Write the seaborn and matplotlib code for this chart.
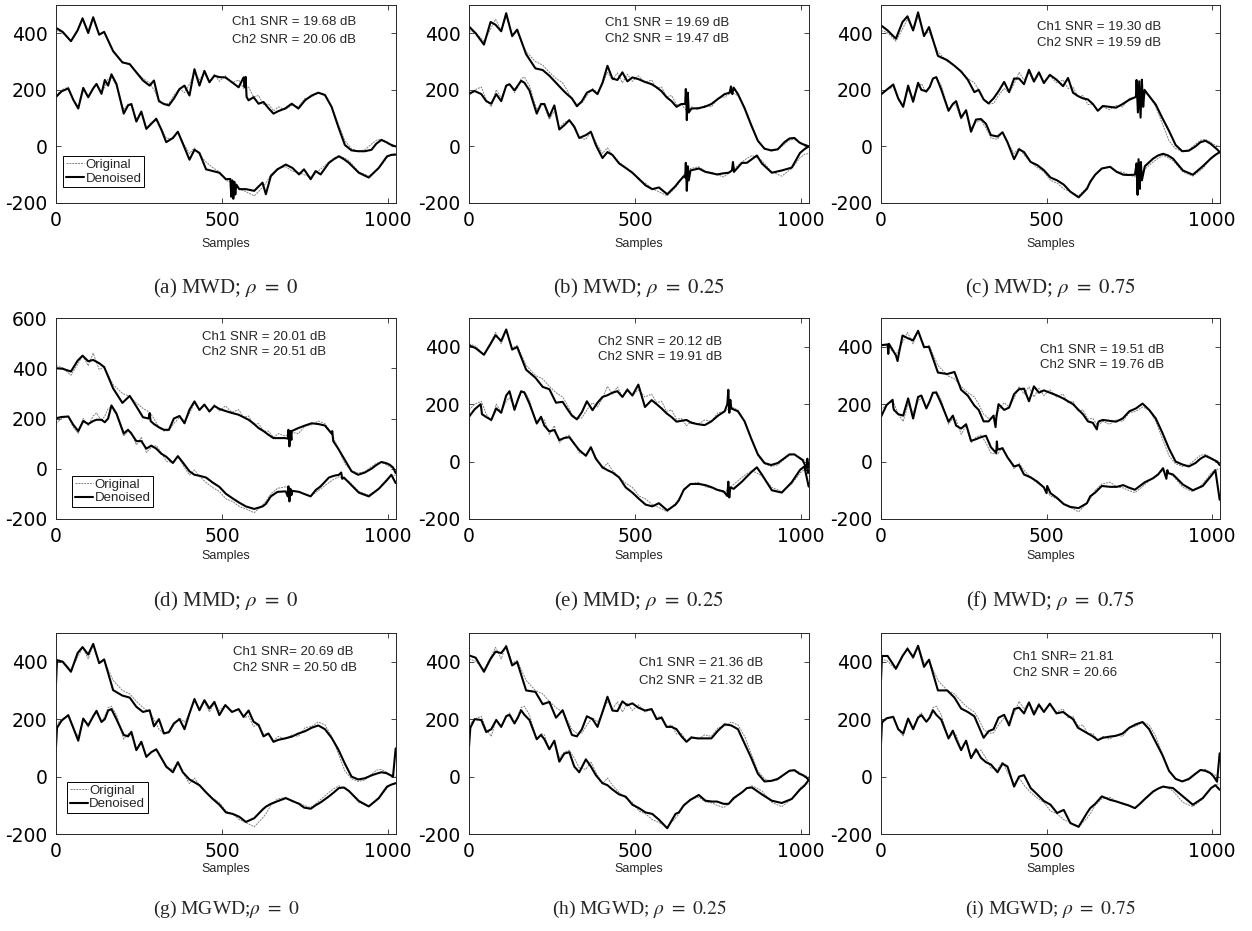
import numpy as np
import pandas as pd
import matplotlib
matplotlib.use('Agg')
import matplotlib.pyplot as plt
import seaborn as sns

ch1_samples = [0, 20, 45, 65, 80, 97, 112, 130, 145, 172,
               200, 222, 242, 262, 282, 295, 310, 325, 340, 355,
               372, 387, 402, 417, 432, 447, 462, 477, 492, 510,
               530, 550, 565, 580, 595, 610, 625, 640, 655, 670,
               690, 710, 730, 750, 770, 790, 810, 830, 850, 870,
               890, 910, 930, 950, 965, 980, 995, 1005, 1015, 1023]
ch2_samples = [0, 17, 37, 52, 67, 82, 97, 112, 122, 137,
               147, 157, 167, 182, 204, 217, 227, 242, 257, 272,
               287, 302, 317, 332, 352, 367, 382, 402, 417, 432,
               452, 472, 492, 512, 532, 552, 572, 597, 622, 632,
               647, 667, 692, 712, 732, 747, 767, 782, 797, 822,
               837, 852, 867, 882, 912, 942, 972, 997, 1010, 1023]

# original signals (same in every panel)
orig_ch1 = [410, 402, 372, 415, 450, 410, 460, 395, 405, 335,
            300, 288, 262, 240, 225, 200, 165, 150, 152, 180,
            205, 190, 220, 262, 235, 260, 225, 255, 230, 250,
            225, 235, 205, 210, 175, 180, 148, 150, 125, 140,
            130, 145, 140, 170, 175, 190, 180, 140, 80, 20,
            -8, -17, -12, 8, 22, 25, 15, 8, 2, 0]
orig_ch2 = [180, 200, 210, 165, 140, 200, 172, 210, 222, 190,
            210, 240, 245, 215, 130, 150, 145, 95, 125, 65,
            85, 92, 65, 30, 25, 52, 15, -25, -5, -30,
            -55, -75, -90, -120, -130, -150, -160, -175, -145, -130,
            -100, -78, -72, -88, -92, -100, -108, -95, -80, -55,
            -42, -32, -40, -50, -90, -105, -78, -40, -28, -25]

# denoised signals, one pair per panel
den1_a = [419, 405, 372, 410, 453, 401, 456, 395, 405, 337,
          297, 291, 262, 233, 215, 233, 160, 150, 145, 169,
          203, 215, 180, 273, 215, 267, 227, 250, 245, 244,
          227, 209, 244, 163, 174, 151, 157, 135, 116, 125,
          134, 151, 134, 163, 180, 190, 182, 140, 70, 5,
          -14, -17, -17, -12, 10, 23, 15, 8, 3, 0]
den2_a = [175, 195, 205, 165, 134, 207, 174, 205, 221, 186,
          235, 215, 255, 221, 116, 145, 150, 88, 123, 62,
          80, 98, 60, 15, 30, 52, 10, -47, -12, -23,
          -81, -87, -93, -116, -134, -151, -151, -157, -128, -169,
          -105, -81, -64, -76, -99, -81, -116, -87, -99, -58,
          -45, -35, -45, -58, -93, -110, -76, -35, -30, -29]
den1_b = [424, 400, 360, 440, 430, 407, 471, 390, 413, 326,
          276, 270, 250, 225, 200, 185, 170, 142, 160, 190,
          200, 185, 225, 285, 240, 235, 262, 230, 244, 238,
          228, 220, 209, 195, 174, 160, 140, 150, 145, 134,
          135, 140, 150, 168, 185, 200, 185, 135, 75, 20,
          -8, -14, -10, 15, 28, 30, 14, 8, 4, 0]
den2_b = [186, 196, 185, 160, 151, 185, 160, 215, 220, 198,
          215, 232, 225, 198, 116, 150, 150, 105, 145, 60,
          75, 93, 70, 30, 40, 52, 5, -41, -20, -30,
          -60, -76, -93, -115, -138, -151, -145, -169, -140, -125,
          -105, -85, -78, -90, -95, -99, -95, -93, -75, -58,
          -58, -45, -32, -60, -93, -85, -75, -23, -10, 0]
den1_c = [428, 410, 381, 440, 460, 410, 474, 390, 422, 320,
          305, 285, 265, 236, 192, 200, 166, 152, 170, 195,
          228, 192, 240, 240, 220, 271, 230, 262, 224, 253,
          236, 213, 242, 190, 178, 170, 166, 150, 126, 143,
          140, 137, 150, 165, 175, 180, 178, 148, 100, 55,
          5, -17, -15, 0, 15, 20, 10, 0, -10, -20]
den2_c = [184, 200, 219, 170, 140, 215, 158, 225, 200, 195,
          210, 240, 245, 201, 126, 150, 160, 102, 128, 52,
          95, 97, 80, 40, 35, 50, 15, -45, -10, -20,
          -55, -66, -84, -110, -120, -135, -160, -180, -150, -125,
          -100, -78, -72, -90, -100, -101, -100, -90, -70, -43,
          -32, -26, -32, -43, -85, -100, -70, -42, -30, -20]
den1_d = [400, 398, 387, 430, 450, 428, 433, 420, 405, 320,
          262, 290, 248, 205, 221, 178, 165, 155, 155, 200,
          210, 181, 235, 268, 234, 255, 228, 250, 238, 230,
          222, 215, 205, 195, 180, 162, 150, 135, 122, 122,
          122, 150, 162, 172, 181, 178, 172, 140, 80, 35,
          -10, -24, -15, 0, 15, 27, 22, 16, 5, -17]
den2_d = [201, 206, 208, 175, 150, 190, 178, 190, 195, 195,
          185, 200, 252, 220, 140, 155, 140, 110, 110, 80,
          92, 80, 60, 48, 23, 50, 25, -10, -24, -28,
          -35, -55, -72, -100, -118, -135, -150, -160, -150, -140,
          -110, -92, -90, -88, -92, -100, -110, -85, -70, -35,
          -28, -24, -35, -55, -95, -110, -80, -45, -24, -57]
den1_e = [405, 395, 372, 410, 440, 420, 460, 390, 399, 320,
          292, 260, 252, 205, 208, 185, 160, 147, 172, 210,
          179, 205, 225, 231, 240, 245, 225, 250, 230, 268,
          190, 214, 200, 185, 168, 155, 139, 142, 145, 135,
          130, 127, 140, 160, 175, 185, 175, 140, 80, 25,
          -5, -12, -5, 12, 25, 25, 13, 5, -20, -6]
den2_e = [156, 182, 185, 155, 145, 185, 170, 230, 245, 180,
          215, 245, 240, 202, 133, 156, 125, 105, 110, 75,
          82, 85, 62, 40, 20, 50, 10, -20, -30, -38,
          -55, -90, -108, -130, -150, -156, -145, -170, -150, -135,
          -98, -78, -78, -82, -90, -98, -104, -100, -95, -70,
          -52, -35, -20, -45, -100, -108, -72, -29, -17, -87]
den1_f = [405, 408, 370, 439, 430, 422, 455, 399, 399, 310,
          305, 312, 250, 230, 195, 180, 140, 140, 160, 200,
          180, 188, 235, 252, 254, 210, 262, 240, 248, 240,
          231, 220, 210, 200, 182, 165, 140, 135, 133, 145,
          142, 139, 150, 175, 185, 202, 180, 150, 100, 45,
          0, -10, -17, -5, 10, 20, 12, 6, 0, -12]
den2_f = [156, 197, 190, 165, 160, 220, 150, 225, 230, 185,
          210, 240, 240, 202, 139, 160, 125, 115, 130, 72,
          78, 85, 90, 50, 42, 46, 15, -17, -12, -45,
          -55, -70, -90, -110, -127, -148, -158, -162, -145, -121,
          -108, -85, -88, -88, -82, -90, -98, -85, -72, -58,
          -45, -23, -40, -45, -80, -100, -85, -50, -30, -133]
den1_g = [324, 400, 365, 430, 451, 425, 462, 395, 408, 301,
          282, 275, 243, 225, 231, 175, 200, 150, 155, 185,
          200, 165, 220, 270, 231, 266, 237, 260, 214, 249,
          225, 235, 208, 230, 191, 180, 140, 150, 121, 128,
          133, 139, 150, 158, 170, 178, 165, 135, 95, 45,
          0, -10, -6, 4, 10, 15, 12, 6, 0, 98]
den2_g = [104, 195, 214, 170, 125, 202, 178, 210, 229, 190,
          200, 230, 235, 200, 145, 140, 156, 92, 121, 69,
          85, 95, 65, 35, 15, 50, 15, -10, -20, -30,
          -55, -78, -98, -125, -130, -140, -158, -145, -115, -105,
          -95, -86, -75, -85, -95, -108, -112, -100, -90, -69,
          -55, -40, -38, -50, -85, -104, -75, -35, -28, -23]
den1_h = [422, 414, 365, 410, 435, 430, 453, 387, 399, 300,
          295, 252, 260, 205, 231, 190, 145, 140, 165, 210,
          200, 173, 225, 278, 230, 228, 262, 248, 255, 240,
          230, 235, 200, 205, 173, 173, 165, 140, 121, 136,
          133, 133, 133, 160, 182, 178, 165, 115, 65, 10,
          -17, -15, -8, 8, 20, 22, 10, 5, -2, -12]
den2_h = [104, 200, 197, 155, 165, 197, 173, 210, 215, 185,
          205, 231, 215, 197, 130, 145, 130, 95, 125, 52,
          80, 85, 35, 15, 60, 35, 5, -23, -30, -45,
          -62, -70, -98, -110, -125, -130, -150, -180, -130, -125,
          -100, -81, -64, -84, -87, -87, -95, -95, -75, -55,
          -40, -38, -50, -62, -84, -92, -78, -45, -32, -12]
den1_i = [335, 420, 376, 420, 445, 416, 455, 382, 407, 300,
          300, 275, 237, 225, 210, 175, 135, 158, 165, 205,
          215, 178, 235, 240, 220, 258, 216, 250, 225, 254,
          220, 225, 212, 200, 170, 160, 150, 140, 127, 135,
          139, 142, 150, 170, 182, 190, 165, 120, 75, 20,
          -8, -17, -8, 10, 23, 20, 12, 0, -18, 81]
den2_i = [116, 203, 208, 165, 150, 202, 165, 205, 214, 191,
          205, 231, 215, 198, 133, 160, 130, 92, 125, 64,
          95, 65, 50, 42, 15, 45, 35, -35, 0, 5,
          -40, -62, -85, -98, -127, -116, -162, -175, -127, -110,
          -95, -69, -81, -87, -95, -100, -110, -95, -78, -52,
          -42, -35, -38, -40, -69, -98, -75, -40, -30, -46]

# short noise bursts left in the denoised curves (sample, value)
burst1_a = [(568, 210), (571, 246), (574, 175)]
burst2_a = [(525, -115), (528, -178), (531, -120), (534, -185), (537, -125), (540, -170), (543, -135)]
burst1_b = [(651, 150), (653, 203), (656, 93), (659, 190), (662, 120), (785, 190), (789, 212), (793, 185), (797, 208)]
burst2_b = [(651, -110), (653, -58), (656, -157), (659, -70), (662, -120), (792, -85), (795, -55), (798, -90)]
burst1_c = [(772, 235), (776, 120), (780, 230), (784, 102), (788, 236), (792, 140), (796, 200)]
burst2_c = [(772, -60), (775, -171), (778, -45), (782, -150), (785, -55), (788, -120)]
burst1_d = [(279, 200), (285, 190), (698, 120), (700, 155), (703, 89), (706, 150), (709, 115), (832, 150), (835, 110)]
burst2_d = [(698, -110), (700, -70), (703, -130), (706, -80), (709, -105), (859, -15), (862, -40)]
burst1_e = [(778, 200), (781, 250), (784, 170), (787, 215), (1017, -30), (1019, 10), (1021, -40)]
burst2_e = [(35, 200), (39, 165), (778, -120), (781, -70), (784, -125), (787, -90)]
burst1_f = [(22, 375), (24, 410), (50, 350), (53, 370), (346, 120), (348, 150), (652, 112), (658, 140)]
burst2_f = [(35, 215), (39, 180), (348, 30), (350, 70), (500, -110), (502, -85), (862, -60), (865, -30)]
burst1_g = [(3, 405)]
burst2_g = [(3, 170)]
burst1_h = []
burst2_h = [(4, 170)]
burst1_i = [(3, 420)]
burst2_i = [(3, 190)]

captions = ['(a) MWD; $\\rho\\ =\\ 0$', '(b) MWD; $\\rho\\ =\\ 0.25$', '(c) MWD; $\\rho\\ =\\ 0.75$',
            '(d) MMD; $\\rho\\ =\\ 0$', '(e) MMD; $\\rho\\ =\\ 0.25$', '(f) MWD; $\\rho\\ =\\ 0.75$',
            '(g) MGWD;$\\rho\\ =\\ 0$', '(h) MGWD; $\\rho\\ =\\ 0.25$', '(i) MGWD; $\\rho\\ =\\ 0.75$']
snr_lines = [('Ch1 SNR = 19.68 dB', 'Ch2 SNR = 20.06 dB'),
             ('Ch1 SNR = 19.69 dB', 'Ch2 SNR = 19.47 dB'),
             ('Ch1 SNR = 19.30 dB', 'Ch2 SNR = 19.59 dB'),
             ('Ch1 SNR = 20.01 dB', 'Ch2 SNR = 20.51 dB'),
             ('Ch2 SNR = 20.12 dB', 'Ch2 SNR = 19.91 dB'),
             ('Ch1 SNR = 19.51 dB', 'Ch2 SNR = 19.76 dB'),
             ('Ch1 SNR= 20.69 dB', 'Ch2 SNR = 20.50 dB'),
             ('Ch1 SNR = 21.36 dB', 'Ch2 SNR = 21.32 dB'),
             ('Ch1 SNR= 21.81', 'Ch2 SNR = 20.66')]

den1 = [den1_a, den1_b, den1_c, den1_d, den1_e, den1_f, den1_g, den1_h, den1_i]
den2 = [den2_a, den2_b, den2_c, den2_d, den2_e, den2_f, den2_g, den2_h, den2_i]
burst1 = [burst1_a, burst1_b, burst1_c, burst1_d, burst1_e, burst1_f, burst1_g, burst1_h, burst1_i]
burst2 = [burst2_a, burst2_b, burst2_c, burst2_d, burst2_e, burst2_f, burst2_g, burst2_h, burst2_i]

# text placement (axes fraction): left x, first line y, second line y
snr_pos = [(0.518, 0.914, 0.823), (0.40, 0.91, 0.83), (0.46, 0.89, 0.81),
           (0.43, 0.905, 0.83), (0.38, 0.88, 0.805), (0.47, 0.84, 0.765),
           (0.52, 0.905, 0.825), (0.50, 0.85, 0.76), (0.39, 0.88, 0.80)]
legend_pos = {0: (0.021, 0.08), 3: (0.047, 0.06), 6: (0.032, 0.104)}


def series(grid, vals, extra=()):
    pts = sorted(list(zip(grid, vals)) + list(extra))
    return pd.DataFrame(pts, columns=['sample', 'value'])


sns.set_style('ticks')
plt.rcParams['font.family'] = ['Liberation Sans', 'DejaVu Sans']
plt.rcParams['mathtext.fontset'] = 'stix'
plt.rcParams['axes.unicode_minus'] = False

fig = plt.figure(figsize=(12.52, 9.31), dpi=100)
W, H = 1252, 931
col_x = [56, 469, 881]
col_w = [340, 340, 339]
row_top = [5, 318, 633]
row_bot = [203, 519, 834]
cap_y = [288, 601, 909]
cap_size = [15, 15, 14]
lab_gap = [0.177, 0.154, 0.144]

for k in range(9):
    r, c = divmod(k, 3)
    ax = fig.add_axes([col_x[c] / W, 1 - row_bot[r] / H,
                       col_w[c] / W, (row_bot[r] - row_top[r]) / H])
    o1 = series(ch1_samples, orig_ch1)
    o2 = series(ch2_samples, orig_ch2)
    d1 = series(ch1_samples, den1[k], burst1[k])
    d2 = series(ch2_samples, den2[k], burst2[k])
    sns.lineplot(data=o1, x='sample', y='value', ax=ax, estimator=None, color='0.5',
                 lw=0.7, linestyle=(0, (2, 1)))
    sns.lineplot(data=d1, x='sample', y='value', ax=ax, estimator=None, color='black',
                 lw=1.5, solid_joinstyle='round')
    sns.lineplot(data=o2, x='sample', y='value', ax=ax, estimator=None, color='0.5',
                 lw=0.7, linestyle=(0, (2, 1)))
    sns.lineplot(data=d2, x='sample', y='value', ax=ax, estimator=None, color='black',
                 lw=1.5, solid_joinstyle='round')

    ax.set_xlim(0, 1024)
    if k == 3:
        ax.set_ylim(-200, 600)
        ax.set_yticks([-200, 0, 200, 400, 600])
    else:
        ax.set_ylim(-200, 500)
        ax.set_yticks([-200, 0, 200, 400])
    ax.set_xticks([0, 500, 1000])
    ax.tick_params(direction='in', top=True, right=True, length=3.5, width=0.6,
                   labelsize=13.5, pad=6, colors='0.15')
    for lab in ax.get_xticklabels() + ax.get_yticklabels():
        lab.set_family('DejaVu Sans')
        lab.set_color('black')
    for sp in ax.spines.values():
        sp.set_visible(True)
        sp.set_linewidth(0.7)
        sp.set_color('0.15')
    ax.set_ylabel('')
    ax.set_xlabel('Samples', fontsize=9)
    ax.xaxis.set_label_coords(0.5, -lab_gap[r])

    tx, ty1, ty2 = snr_pos[k]
    ax.text(tx, ty1, snr_lines[k][0], transform=ax.transAxes, fontsize=9.5, va='center')
    ax.text(tx, ty2, snr_lines[k][1], transform=ax.transAxes, fontsize=9.5, va='center')

    if k in legend_pos:
        ax.lines[0].set_label('Original')
        ax.lines[1].set_label('Denoised')
        leg = ax.legend(handles=[ax.lines[0], ax.lines[1]], loc='lower left',
                        bbox_to_anchor=legend_pos[k], borderaxespad=0, fontsize=9.5,
                        frameon=True, fancybox=False, framealpha=1, edgecolor='black',
                        handlelength=1.4, handletextpad=0.1, borderpad=0.2,
                        labelspacing=0.1)
        leg.get_frame().set_linewidth(0.7)

    fig.text((col_x[c] + col_w[c] / 2) / W, 1 - cap_y[r] / H, captions[k],
             ha='center', va='center', fontsize=cap_size[r], family='Liberation Serif')

fig.savefig('out.png', dpi=100)
